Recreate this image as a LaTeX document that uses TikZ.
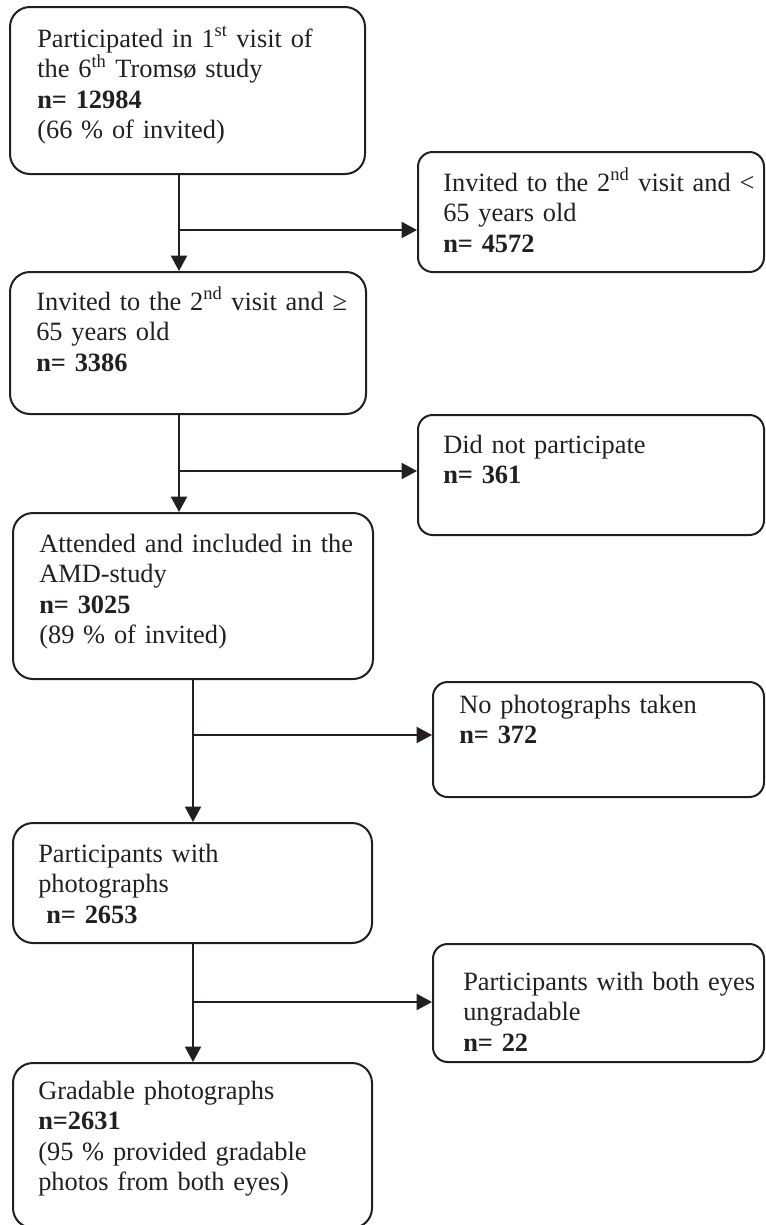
\documentclass[tikz,border=0pt]{standalone}
\usepackage{fontspec}
\setmainfont{Liberation Serif}
\usetikzlibrary{arrows.meta,fit}
\definecolor{ink}{HTML}{231F20}
\begin{document}
\begin{tikzpicture}[x=0.75pt,y=-0.75pt,
  lbox/.style={draw=ink, line width=1.5pt, rounded corners=15pt, inner sep=0pt},
  rbox/.style={lbox, rounded corners=11pt},
  txt/.style={anchor=base west, inner sep=0pt, text width=280pt, align=left, text=ink,
    font=\fontsize{19.8}{22.9}\selectfont},
  arr/.style={draw=ink, line width=1.5pt, -{Triangle[length=11.5pt,width=12pt]}}
]
\useasboundingbox (0,0) rectangle (766,1225);
\clip (0,0) rectangle (766,1225);

% boxes
\node[lbox, fit={(10,7) (365,174)}] (A) {};
\node[rbox, fit={(418,152) (764,272)}] (B) {};
\node[lbox, fit={(10,272) (366,414)}] (C) {};
\node[rbox, fit={(418,415) (764,535)}] (D) {};
\node[lbox, fit={(13,513) (373,679)}] (E) {};
\node[rbox, fit={(433,682) (764,797)}] (F) {};
\node[lbox, fit={(13,823) (372,943)}] (G) {};
\node[rbox, fit={(433,944) (764,1062)}] (H) {};
\node[lbox, fit={(13,1063) (372,1228)}] (I) {};

% texts
\node[txt] (At) at (37,47) {Participated in 1\textsuperscript{st} visit of\\
  the 6\textsuperscript{th} Tromsø study\\
  \textbf{n= 12984}\\
  (66 \% of invited)};
\node[txt] (Bt) at (443,191) {Invited to the 2\textsuperscript{nd} visit and <\\
  65 years old\\
  \textbf{n= 4572}};
\node[txt] (Ct) at (36,310) {Invited to the 2\textsuperscript{nd} visit and ≥\\
  65 years old\\
  \textbf{n= 3386}};
\node[txt] (Dt) at (443,453) {Did not participate\\
  \textbf{n= 361}};
\node[txt] (Et) at (39,552) {Attended and included in the\\
  AMD-study\\
  \textbf{n= 3025}\\
  (89 \% of invited)};
\node[txt] (Ft) at (459,713) {No photographs taken\\
  \textbf{n= 372}};
\node[txt] (Gt) at (38,862) {Participants with\\
  photographs\\
  \hspace*{6pt}\textbf{n= 2653}};
\node[txt] (Ht) at (463,990) {Participants with both eyes\\
  ungradable\\
  \textbf{n= 22}};
\node[txt] (It) at (38,1099) {Gradable photographs\\
  \textbf{n=2631}\\
  (95 \% provided gradable\\
  photos from both eyes)};

% connectors
\coordinate (j1) at (179,230);
\coordinate (j2) at (179,471);
\coordinate (j3) at (193,735);
\coordinate (j4) at (193,1002);
\draw[arr] (j1 |- A.south) -- (j1 |- C.north);
\draw[arr] (j1) -- (j1 -| B.west);
\draw[arr] (j2 |- C.south) -- (j2 |- E.north);
\draw[arr] (j2) -- (j2 -| D.west);
\draw[arr] (j3 |- E.south) -- (j3 |- G.north);
\draw[arr] (j3) -- (j3 -| F.west);
\draw[arr] (j4 |- G.south) -- (j4 |- I.north);
\draw[arr] (j4) -- (j4 -| H.west);
\end{tikzpicture}
\end{document}
